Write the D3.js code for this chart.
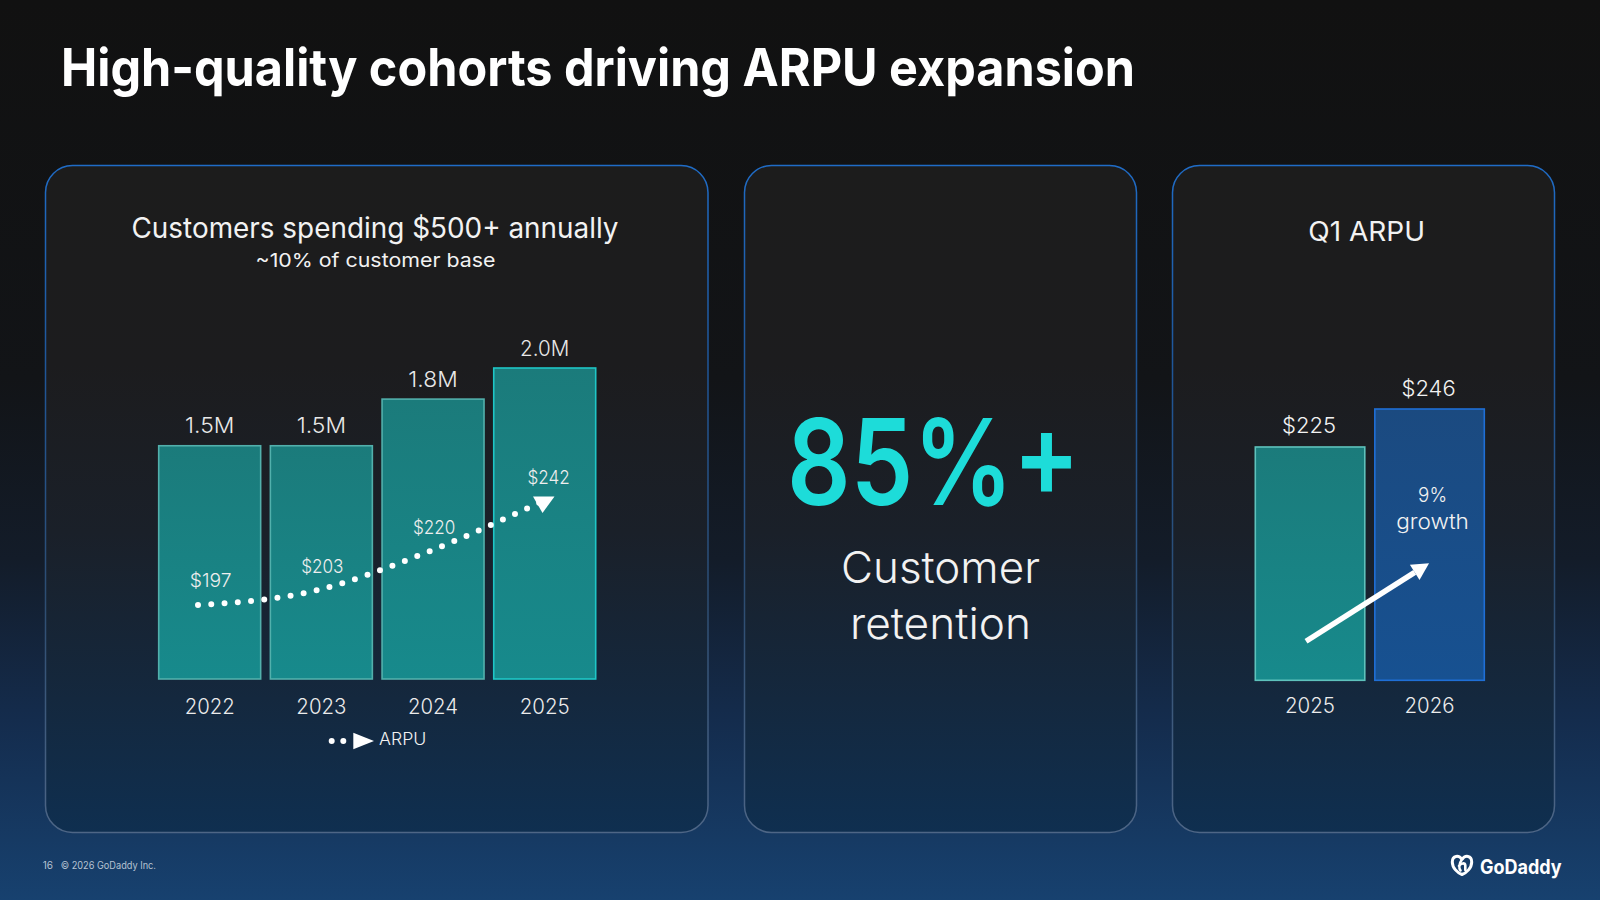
<!DOCTYPE html>
<html><head><meta charset="utf-8">
<script src="https://cdn.jsdelivr.net/npm/d3@7"></script>
<style>
html,body{margin:0;padding:0;background:#111;}
svg{display:block;}
text{font-family:Inter,"Noto Sans",sans-serif;}
</style></head>
<body>
<svg id="c" width="1600" height="900"></svg>
<script>
// ---- data ----
const years = ["2022", "2023", "2024", "2025"];
const customersM = [1.5, 1.5, 1.8, 2.0];
const customerLabels = ["1.5M", "1.5M", "1.8M", "2.0M"];
const arpu = [197, 203, 220, 242];
const arpuLabels = ["$197", "$203", "$220", "$242"];
const q1Years = ["2025", "2026"];
const q1Arpu = [225, 246];
const q1Labels = ["$225", "$246"];
const retentionValue = "85%+";
const retentionLines = ["Customer", "retention"];
const growthLines = ["9%", "growth"];

const svg = d3.select("#c");
const defs = svg.append("defs");
function grad(id, stops, x2 = 0, y2 = 1) {
  const g = defs.append("linearGradient").attr("id", id)
    .attr("x1", 0).attr("y1", 0).attr("x2", x2).attr("y2", y2);
  stops.forEach(s => g.append("stop").attr("offset", s[0]).attr("stop-color", s[1]));
}
grad("bg", [[0, "#111111"], [0.42, "#121417"], [0.62, "#131c29"], [0.8, "#142c4d"], [1, "#17416f"]]);
grad("panel", [[0, "#1c1c1c"], [0.3, "#1c1c1e"], [0.55, "#1a2029"], [0.8, "#14283e"], [1, "#0f2f50"]]);
grad("panelStroke", [[0, "#1f6cc7"], [0.3, "#1f5699"], [0.65, "#2d4d72"], [1, "#4e6686"]]);
grad("teal", [[0, "#1b7b7b"], [1, "#178a8c"]]);
grad("blue", [[0, "#1b4a80"], [1, "#175191"]]);

svg.append("rect").attr("width", 1600).attr("height", 900).attr("fill", "url(#bg)");

function fit(sel, w) {
  sel.each(function () {
    const l = this.getComputedTextLength();
    if (l > 0 && Math.abs(l - w) > 1) d3.select(this).attr("textLength", w).attr("lengthAdjust", "spacingAndGlyphs");
  });
  return sel;
}
function txt(g, x, y, s, size, opts = {}) {
  const t = g.append("text").attr("x", x).attr("y", y).text(s)
    .attr("font-size", size).attr("fill", opts.fill || "#f2f2f2")
    .attr("font-weight", opts.weight || 400)
    .attr("text-anchor", opts.anchor || "middle");
  if (opts.w) fit(t, opts.w);
  return t;
}

// title
txt(svg, 61, 86, "High-quality cohorts driving ARPU expansion", 52, {anchor: "start", weight: 700, fill: "#ffffff", w: 1074});

// panels
const panels = [[45.5, 745, 1173], [708, 1136.5, 1554.5]];
[[45.5, 708], [744.5, 1136.5], [1172.5, 1554.5]].forEach(p => {
  svg.append("rect").attr("x", p[0]).attr("y", 165.5).attr("width", p[1] - p[0]).attr("height", 667)
    .attr("rx", 27).attr("fill", "url(#panel)").attr("stroke", "url(#panelStroke)").attr("stroke-width", 1.5);
});

// ---- panel 1 ----
const g1 = svg.append("g");
txt(g1, 375, 238.3, "Customers spending $500+ annually", 28.5, {weight: 400, w: 487});
txt(g1, 375.5, 267.3, "~10% of customer base", 19.3, {weight: 400, w: 240});

const x1 = d3.scaleBand().domain(years).range([158.7, 595.7]).paddingInner(0.087).paddingOuter(0);
const y1 = d3.scaleLinear().domain([0, 2.0]).range([679, 368]);
years.forEach((yr, i) => {
  g1.append("rect").attr("x", x1(yr)).attr("y", y1(customersM[i]))
    .attr("width", x1.bandwidth()).attr("height", y1(0) - y1(customersM[i]))
    .attr("fill", "url(#teal)").attr("stroke", i === 3 ? "#1fc6c6" : "#52b0ac").attr("stroke-width", 1.6);
  txt(g1, x1(yr) + x1.bandwidth() / 2, y1(customersM[i]) - 12.5, customerLabels[i], 22, {weight: 300, fill: "#e8e8e8", w: 49.3});
  txt(g1, x1(yr) + x1.bandwidth() / 2, 714, yr, 21.6, {weight: 300, fill: "#ececec", w: 50});
});

// ARPU dotted line
const xa = d3.scalePoint().domain(years).range([198, 542]);
const ya = d3.scaleLinear().domain([197, 242]).range([605, 501.5]);
const line = d3.line().x((d, i) => xa(years[i])).y(d => ya(d)).curve(d3.curveMonotoneX);
g1.append("path").attr("d", line(arpu)).attr("fill", "none").attr("stroke", "#ffffff")
  .attr("stroke-width", 6).attr("stroke-linecap", "round").attr("stroke-dasharray", "0 13.3");
// arrowhead at end (as drawn in the reference)
const ex = xa(years[3]), ey = ya(arpu[3]);
g1.append("path").attr("d", `M${ex - 9},${ey - 5} L${ex + 12.5},${ey - 5} L${ex + 0.5},${ey + 11.5} Z`).attr("fill", "#ffffff");
arpu.forEach((v, i) => {
  txt(g1, x1(years[i]) + x1.bandwidth() / 2 + (i === 3 ? 4 : 1), ya(v) - 18, arpuLabels[i], 19.3, {weight: 300, fill: "#eeeeee", w: 42.3});
});
// legend
g1.append("circle").attr("cx", 331.7).attr("cy", 741).attr("r", 3).attr("fill", "#fff");
g1.append("circle").attr("cx", 343.3).attr("cy", 741).attr("r", 3).attr("fill", "#fff");
g1.append("path").attr("d", "M353.3,732.7 L374,741 L353.3,749.3 Z").attr("fill", "#fff");
txt(g1, 379, 745, "ARPU", 17, {anchor: "start", weight: 300, w: 47.3});

// ---- panel 2 ----
const g2 = svg.append("g");
txt(g2, 933.5, 505, retentionValue, 119, {weight: 600, fill: "#1ddcd9", w: 293});
txt(g2, 940.5, 583.3, retentionLines[0], 43.6, {weight: 300, w: 199});
txt(g2, 940.5, 639.3, retentionLines[1], 43.6, {weight: 300, w: 181});

// ---- panel 3 ----
const g3 = svg.append("g");
txt(g3, 1366.7, 241, "Q1 ARPU", 26.5, {weight: 400, w: 116.7});
const x3 = d3.scaleBand().domain(q1Years).range([1255.3, 1484.3]).paddingInner(0.084).paddingOuter(0);
const y3 = d3.scaleLinear().domain([96, 246]).range([680.3, 409]);
q1Years.forEach((yr, i) => {
  g3.append("rect").attr("x", x3(yr)).attr("y", y3(q1Arpu[i]))
    .attr("width", x3.bandwidth()).attr("height", y3(96) - y3(q1Arpu[i]))
    .attr("fill", i === 0 ? "url(#teal)" : "url(#blue)")
    .attr("stroke", i === 0 ? "#5ec2bc" : "#1f6fd6").attr("stroke-width", 1.6);
  txt(g3, x3(yr) + x3.bandwidth() / 2 - 1, y3(q1Arpu[i]) - 13.5, q1Labels[i], 22, {weight: 300, w: 54.3});
  txt(g3, x3(yr) + x3.bandwidth() / 2, 712.7, yr, 21.6, {weight: 300, fill: "#ececec", w: 50});
});
const gx = x3("2026") + x3.bandwidth() / 2 + 3;
txt(g3, gx, 501.7, growthLines[0], 20.5, {weight: 300, w: 29});
txt(g3, gx, 529.3, growthLines[1], 20.5, {weight: 300, w: 72.7});
// growth arrow
const sx = x3("2025") + x3.bandwidth() / 2 - 4, sy = y3(96) - 39;
const tx = x3("2026") + x3.bandwidth() / 2 - 0.5, ty = y3(96) - 117;
const ang = Math.atan2(ty - sy, tx - sx);
const hl = 17, hw = 9;
const bx = tx - hl * Math.cos(ang), by = ty - hl * Math.sin(ang);
g3.append("line").attr("x1", sx).attr("y1", sy).attr("x2", bx).attr("y2", by)
  .attr("stroke", "#fff").attr("stroke-width", 5.5);
g3.append("path").attr("d",
  `M${tx},${ty} L${bx + hw * Math.sin(ang)},${by - hw * Math.cos(ang)} L${bx - hw * Math.sin(ang)},${by + hw * Math.cos(ang)} Z`)
  .attr("fill", "#fff");

// ---- footer ----
txt(svg, 42.7, 869, "16", 10, {anchor: "start", fill: "#b5c2d2"});
txt(svg, 60.7, 869, "© 2026 GoDaddy Inc.", 10, {anchor: "start", fill: "#b5c2d2", w: 95.3});
const logo = svg.append("g").attr("transform", "translate(1450.5,854)");
logo.append("path").attr("d", "M11.5,5.5 C8.5,0.8 1.8,1.2 1.8,8 C1.8,14 7,18.8 11.5,20.5 C16,18.8 21.2,14 21.2,8 C21.2,1.2 14.5,0.8 11.5,5.5")
  .attr("fill", "none").attr("stroke", "#fff").attr("stroke-width", 3);
logo.append("path").attr("d", "M11.5,5.5 C8.5,9.5 8.2,14 10,16.5 M8.5,12 C10.5,8.8 14.5,8.5 14.8,11.5 L14.8,16")
  .attr("fill", "none").attr("stroke", "#fff").attr("stroke-width", 2.6).attr("stroke-linecap", "round");
txt(svg, 1480, 873.7, "GoDaddy", 20, {anchor: "start", weight: 700, fill: "#fff", w: 81.7});
</script>
</body></html>
